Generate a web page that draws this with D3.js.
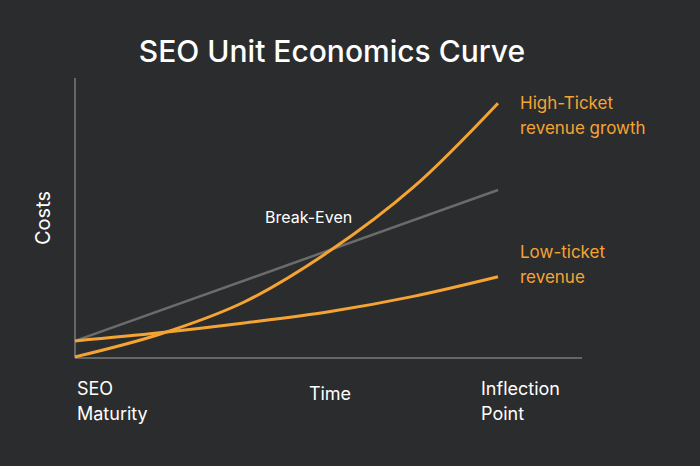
<!DOCTYPE html><html><head><meta charset="utf-8">
<script src="https://cdn.jsdelivr.net/npm/d3@7"></script>
<style>body{margin:0;background:#2b2c2e}</style></head><body>
<svg id="c" width="700" height="466"></svg>
<script>
const times=[0,2,4,6,8,10];
const highTicket=[0.4,8.5,20,38,61,91];
const lowTicket=[6.1,9,12.5,16.5,22,29];
const costs=[6.1,60];
const costTimes=[0,10];
const svg=d3.select("#c");
const F="Inter, Roboto, sans-serif";
svg.append("rect").attr("width",700).attr("height",466).attr("fill","#2b2c2e");
const x=d3.scaleLinear().domain([0,10]).range([75,498]);
const y=d3.scaleLinear().domain([0,100]).range([358,78]);
svg.append("line").attr("x1",75).attr("x2",75).attr("y1",78).attr("y2",358).attr("stroke","#666").attr("stroke-width",2);
svg.append("line").attr("x1",75).attr("x2",582).attr("y1",358).attr("y2",358).attr("stroke","#666").attr("stroke-width",2);
const line=d3.line().x((d,i)=>x(d[0])).y(d=>y(d[1]));
svg.append("path").attr("d",line(costTimes.map((t,i)=>[t,costs[i]]))).attr("fill","none").attr("stroke","#6b6b6b").attr("stroke-width",2.5);
const cl=line.curve(d3.curveCatmullRom);
[lowTicket,highTicket].forEach(s=>svg.append("path").attr("d",cl(times.map((t,i)=>[t,s[i]]))).attr("fill","none").attr("stroke","#f5a433").attr("stroke-width",3));
svg.append("text").attr("x",332).attr("y",62).attr("text-anchor","middle").attr("fill","#fff").attr("font-family",F).attr("font-size",30).attr("font-weight",500).text("SEO Unit Economics Curve");
const t=(tx,xx,yy,col,sz,anchor)=>svg.append("text").attr("x",xx).attr("y",yy).attr("fill",col).attr("font-family",F).attr("font-size",sz).attr("text-anchor",anchor||"start").text(tx);
t("Break-Even",265,223,"#fff",16);
t("High-Ticket",520,109,"#f5a433",17);
t("revenue growth",520,134,"#f5a433",17);
t("Low-ticket",520,258,"#f5a433",17);
t("revenue",520,283,"#f5a433",17);
t("SEO",77,395,"#fff",18);t("Maturity",77,420,"#fff",18);
t("Time",330,400,"#fff",18,"middle");
t("Inflection",481,395,"#fff",18);t("Point",481,420,"#fff",18);
svg.append("text").attr("transform","translate(50,218) rotate(-90)").attr("text-anchor","middle").attr("fill","#fff").attr("font-family",F).attr("font-size",20).text("Costs");
</script></body></html>
